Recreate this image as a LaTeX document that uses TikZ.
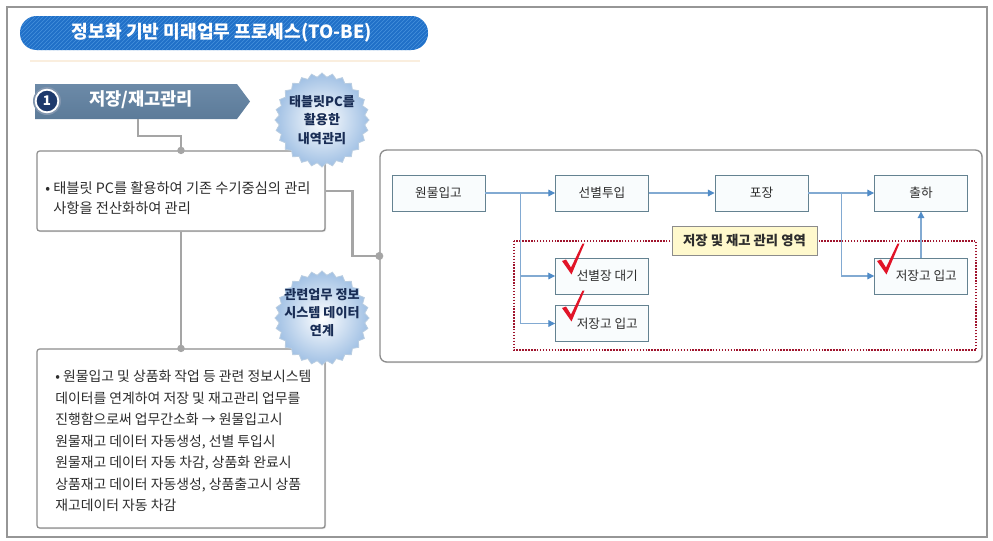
\documentclass[tikz,border=0pt]{standalone}
\usepackage{fontspec}
\setmainfont{Noto Sans CJK KR}
\usetikzlibrary{arrows.meta,shadows,patterns,calc}
\definecolor{framegray}{RGB}{150,150,150}
\definecolor{titleblue}{RGB}{32,112,200}
\definecolor{stripeblue}{RGB}{70,145,220}
\definecolor{stepblue}{RGB}{92,123,153}
\definecolor{steptop}{RGB}{108,138,168}
\definecolor{navy}{RGB}{30,58,108}
\definecolor{conngray}{RGB}{165,165,165}
\definecolor{boxgray}{RGB}{140,140,140}
\definecolor{txtgray}{RGB}{45,45,45}
\definecolor{procedge}{RGB}{100,130,145}
\definecolor{procfill}{RGB}{249,252,253}
\definecolor{arrline}{RGB}{130,170,210}
\definecolor{tipblue}{RGB}{80,140,200}
\definecolor{reddot}{RGB}{160,20,45}
\definecolor{labelfill}{RGB}{255,249,205}
\definecolor{checkred}{RGB}{225,20,40}
\definecolor{burstblue}{RGB}{160,192,228}
\definecolor{burstedge}{RGB}{185,205,225}
\definecolor{bursttxt}{RGB}{25,45,85}
\newcommand\myfs[2]{\fontsize{#1}{#2}\selectfont}
\tikzset{
  conn/.style={draw=conngray, line width=2pt},
  infobox/.style={draw=boxgray, line width=0.9pt, fill=white, rounded corners=2pt, inner sep=0pt,
    drop shadow={shadow xshift=0.8pt, shadow yshift=-0.8pt, opacity=0.25}},
  panelbox/.style={draw=boxgray, line width=1pt, fill=white, rounded corners=5pt, inner sep=0pt,
    drop shadow={shadow xshift=0.8pt, shadow yshift=-0.8pt, opacity=0.25}},
  procbox/.style={draw=procedge, line width=0.7pt, fill=procfill, minimum width=69.75pt, minimum height=27pt,
    inner sep=0pt, font=\myfs{9.5pt}{11pt}, text=txtgray},
  flow/.style={draw=arrline, line width=0.8pt, -{Triangle[length=5pt,width=5pt,color=tipblue]}},
  burst/.style={inner color=white, outer color=burstblue, draw=burstedge, line width=0.6pt},
  bursttext/.style={align=center, font=\bfseries\myfs{9.8pt}{14pt}, text=bursttxt, inner sep=0pt},
  bodytext/.style={anchor=north west, align=left, inner sep=0pt, text=txtgray},
}
\begin{document}
\begin{tikzpicture}[x=0.75pt,y=-0.75pt]
\useasboundingbox (0,0) rectangle (993,540);
\fill[white] (0,0) rectangle (993,540);
\draw[framegray, line width=1pt] (7,7) rectangle (987,537);

% title
\node[fill=titleblue, rounded corners=12.5pt, minimum width=306pt, minimum height=25.5pt, inner sep=0pt,
  postaction={pattern=north east lines, pattern color=stripeblue}] (title) at (224,33) {};
\node[text=white, font=\bfseries\myfs{13.6pt}{15pt}, inner sep=0pt] (titletext) at (222,33) {정보화 기반 미래업무 프로세스(TO-BE)};
\draw[color={rgb,255:red,250;green,238;blue,222}, line width=1.5pt] (30,61) -- (420,61);

% step banner
\shade[top color=steptop, bottom color=stepblue] (35,84) -- (237,84) -- (250,101.5) -- (237,119) -- (35,119) -- cycle;
\node[text=white, font=\bfseries\myfs{13.2pt}{15pt}, inner sep=0pt] (step) at (141,100) {저장/재고관리};
\fill[color={rgb,255:red,130;green,150;blue,175}] (47,101) circle (10.5pt);
\node[circle, fill=navy, draw=white, line width=1.4pt, minimum size=17pt, inner sep=0pt,
  text=white, font=\bfseries\myfs{10pt}{12pt}] (num) at (47,101) {1};
\coordinate (stepbot) at (138,119);

% left boxes
\node[infobox, minimum width=216pt, minimum height=60pt] (box1) at (181,191) {};
\node[bodytext, font=\myfs{10.7pt}{15pt}] (t1) at (45,181)
  {•~태블릿 PC를 활용하여 기존 수기중심의 관리\\\hphantom{•~}사항을 전산화하여 관리};
\node[infobox, minimum width=216pt, minimum height=134.25pt] (box2) at (181,438.5) {};
\node[bodytext, font=\myfs{10.4pt}{16.1pt}] (t2) at (55,370)
  {•~원물입고 및 상품화 작업 등 관련 정보시스템\\
   데이터를 연계하여 저장 및 재고관리 업무를\\
   진행함으로써 업무간소화 → 원물입고시\\
   원물재고 데이터 자동생성, 선별 투입시\\
   원물재고 데이터 자동 차감, 상품화 완료시\\
   상품재고 데이터 자동생성, 상품출고시 상품\\
   재고데이터 자동 차감};

% right panel
\node[panelbox, minimum width=451.5pt, minimum height=159pt] (panel) at (681,256) {};

% gray connectors
\draw[conn] (stepbot) -- ++(0,17) -| (box1.north);
\fill[conngray] (box1.north) circle (2.8pt);
\draw[conn] (box1.south) -- (box2.north);
\fill[conngray] (box2.north) circle (2.8pt);
\draw[conn] (box1.east) -- ++(27,0) |- (panel.west);
\fill[conngray] (panel.west) circle (3pt);

% dotted region
\draw[reddot, line width=1.4pt, dash pattern=on 1.1pt off 1.1pt] (514,241) rectangle (976,350);

% process boxes
\node[procbox] (a) at (438.5,193) {원물입고};
\node[procbox] (b) at (602,193) {선별투입};
\node[procbox] (c) at (761.5,193) {포장};
\node[procbox] (d) at (921,193) {출하};
\node[procbox] (e) at (602,276) {\hspace*{8pt}선별장 대기};
\node[procbox] (f) at (602,323.5) {\hspace*{8pt}저장고 입고};
\node[procbox] (g) at (921,276) {\hspace*{8pt}저장고 입고};

\coordinate (br1) at ($(a.east)!0.5!(b.west)$);
\coordinate (br2) at ($(c.east)!0.5!(d.west)$);
\draw[flow] (a.east) -- (b.west);
\draw[flow] (br1) |- (e.west);
\draw[flow] (br1) |- (f.west);
\draw[flow] (b.east) -- (c.west);
\draw[flow] (c.east) -- (d.west);
\draw[flow] (br2) |- (g.west);
\draw[flow] (g.north) -- (d.south);

% label
\node[draw=boxgray, line width=0.6pt, fill=labelfill, minimum width=108.75pt, minimum height=21.75pt, inner sep=0pt,
  font=\bfseries\myfs{10pt}{12pt}, text=txtgray] (lbl) at (744.5,240.5) {저장 및 재고 관리 영역};

% check marks
\foreach \cx/\cy in {562/261, 562/308, 877/261}{
  \fill[checkred] (\cx,\cy) -- ++(4,-1.5) -- ++(5,8) -- ++(11.5,-24) -- ++(2,0) -- ++(-13,31) -- cycle;
}

% starbursts
\foreach \cy in {120,318}{
  \shade[burst] (369,\cy) \foreach \k [evaluate=\k as \rr using {ifthenelse(mod(\k,2)==0,47,43)}] in {1,...,55}{
    -- ({322+\rr*cos(\k*6.4285714)},{\cy+\rr*sin(\k*6.4285714)}) } -- cycle;
}
\node[bursttext] (s1) at (322,120) {태블릿PC를\\활용한\\내역관리};
\node[bursttext, font=\bfseries\myfs{9.8pt}{13.5pt}] (s2) at (322,313) {관련업무 정보\\시스템 데이터\\연계};
\end{tikzpicture}
\end{document}
